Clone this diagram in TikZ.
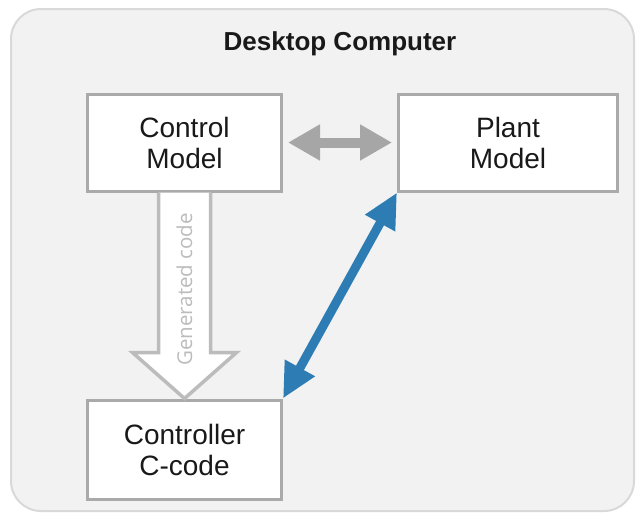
\documentclass[tikz,border=0pt]{standalone}
\usepackage{fontspec}
\setmainfont{Liberation Sans}
\newfontfamily\labelfont{Open Sans}
\usetikzlibrary{arrows.meta, positioning, calc}
\definecolor{framegray}{RGB}{217, 217, 217}
\definecolor{panelgray}{RGB}{242, 242, 242}
\definecolor{boxgray}{RGB}{170, 170, 170}
\definecolor{linkgray}{RGB}{166, 166, 166}
\definecolor{codegray}{RGB}{188, 188, 188}
\definecolor{linkblue}{RGB}{45, 125, 180}
\begin{document}
\begin{tikzpicture}[
  x=1pt, y=-1pt,
  frame/.style={draw=framegray, fill=panelgray, line width=2pt, rounded corners=30pt},
  mbox/.style={draw=boxgray, fill=white, line width=3pt, minimum height=97pt, align=center, text=black!90, font=\fontsize{28}{31}\selectfont},
  grayarrow/.style={draw=linkgray, line width=10pt, {Triangle[length=32pt,width=34pt]}-{Triangle[length=32pt,width=34pt]}},
  bluearrow/.style={draw=linkblue, line width=9pt, {Triangle[length=35pt,width=32pt]}-{Triangle[length=35pt,width=32pt]}},
  hollow/.style={draw=codegray, fill=white, line width=3.5pt, line join=miter}
]
  \fill[white] (0,0) rectangle (636,515);
  \useasboundingbox (0,0) rectangle (636,515);
  \draw[frame] (11,9) rectangle (634,511);
  \node[font=\bfseries\fontsize{26}{30}\selectfont, text=black!90] (title) at (340,44) {Desktop Computer};

  \node[mbox, minimum width=194pt] (ctrl) at (184.5,142.5) {Control\\Model};
  \node[mbox, minimum width=219pt] (plant) at (508,142.5) {Plant\\Model};
  \node[mbox, minimum width=194pt, minimum height=99pt] (ctrlc) at (184.5,449.5) {Controller\\C-code};

  \draw[hollow] ($(ctrl.south)+(-26,0)$) -- ($(ctrlc.north)+(-26,-46)$) -- ($(ctrlc.north)+(-52,-46)$)
    -- (ctrlc.north) -- ($(ctrlc.north)+(52,-46)$) -- ($(ctrlc.north)+(26,-46)$) -- ($(ctrl.south)+(26,0)$);
  \node[rotate=90, text=codegray, font=\labelfont\fontsize{20.5}{22}\selectfont] (gen) at ($(ctrl.south)!0.47!(ctrlc.north)$) {Generated code};

  \draw[grayarrow] ([xshift=5pt]ctrl.east) -- ([xshift=-5pt]plant.west);
  \draw[bluearrow] (ctrlc.north east) -- (plant.south west);
\end{tikzpicture}
\end{document}
